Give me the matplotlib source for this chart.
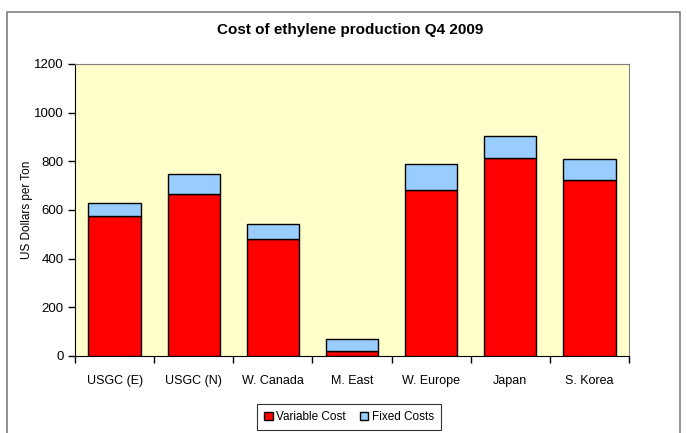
import matplotlib
matplotlib.use("Agg")
import matplotlib.pyplot as plt
from matplotlib.patches import Rectangle
import numpy as np

regions = ["USGC (E)", "USGC (N)", "W. Canada", "M. East", "W. Europe", "Japan", "S. Korea"]
variable_cost = [575, 664, 481, 22, 684, 814, 722]
fixed_costs = [53, 82, 60, 49, 106, 92, 89]
y_ticks = [0, 200, 400, 600, 800, 1000, 1200]

plt.rcParams['font.family'] = ['Liberation Sans', 'DejaVu Sans']

W, H = 687, 433
fig = plt.figure(figsize=(W / 100, H / 100), dpi=100)

# outer chart border (runs off the bottom of the image)
fig.patches.append(Rectangle((7 / W, -0.05), (680 - 7) / W, 1.05 - 12 / H,
                             transform=fig.transFigure, fill=False,
                             edgecolor='#808080', linewidth=1.2))

ax = fig.add_axes([75 / W, 1 - 356 / H, (629 - 75) / W, (356 - 64) / H])
ax.set_facecolor('#FFFFCC')

x = np.arange(len(regions))
ax.bar(x, variable_cost, width=0.66, color='#FF0000', edgecolor='black',
       linewidth=1, label='Variable Cost', zorder=3)
ax.bar(x, fixed_costs, width=0.66, bottom=variable_cost, color='#99CCFF',
       edgecolor='black', linewidth=1, label='Fixed Costs', zorder=3)

ax.set_xlim(-0.5, len(regions) - 0.5)
ax.set_ylim(0, 1200)
ax.set_yticks(y_ticks)
ax.set_yticklabels([str(v) for v in y_ticks], fontsize=9.5)
ax.tick_params(axis='y', direction='out', length=5, width=1, pad=3)

ax.set_xticks(x)
ax.set_xticklabels(regions, fontsize=9)
ax.tick_params(axis='x', length=0, pad=14)
ax.set_xticks(np.arange(-0.5, len(regions)), minor=True)
ax.tick_params(axis='x', which='minor', direction='out', length=5, width=1)

for s in ['top', 'right']:
    ax.spines[s].set_color('#808080')
for s in ['left', 'bottom']:
    ax.spines[s].set_color('black')

ax.set_ylabel("US Dollars per Ton", fontsize=8.5)
ax.yaxis.set_label_coords((33 - 75) / 554, 0.5)
fig.text(350 / W, 1 - 30 / H, "Cost of ethylene production Q4 2009",
         ha='center', va='center', fontsize=11, fontweight='bold')

leg = fig.legend(loc='center', bbox_to_anchor=(349 / W, 1 - 417 / H), ncol=2,
                 fontsize=8.5, frameon=True, fancybox=False, edgecolor='black',
                 handlelength=0.7, handleheight=0.7, handletextpad=0.3,
                 columnspacing=1.2, borderpad=0.6)
leg.get_frame().set_linewidth(0.8)

fig.savefig("out.png", dpi=100)
